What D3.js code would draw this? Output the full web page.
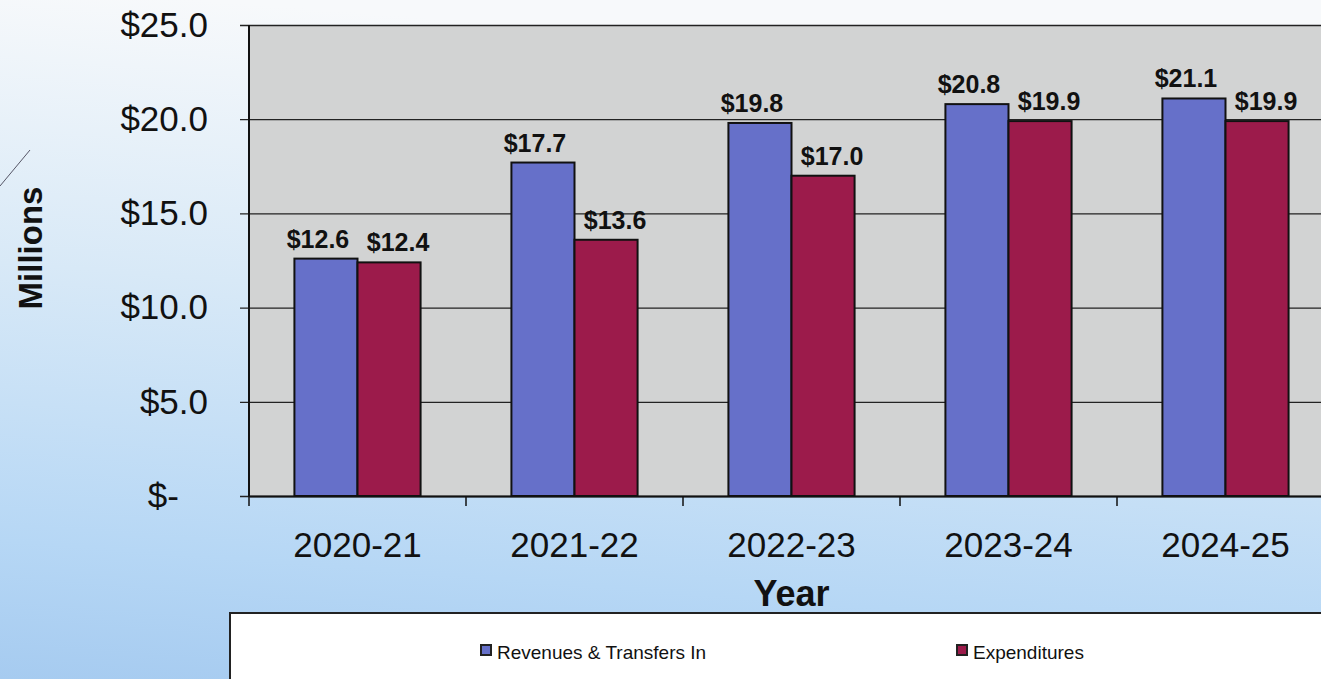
<html>
<head>
<style>
    body { margin: 0px; overflow: hidden; }
    text { font-family: Arial, "Liberation Sans", sans-serif; }
</style>
</head>
<body>
<svg id="viz"></svg>
<script src="https://d3js.org/d3.v7.min.js"></script>
<script>
var width = 1321;
var height = 679;

// data (millions of dollars)
var years = ["2020-21", "2021-22", "2022-23", "2023-24", "2024-25"];
var seriesNames = ["Revenues & Transfers In", "Expenditures"];
var revenues = [12.6, 17.7, 19.8, 20.8, 21.1];
var expenditures = [12.4, 13.6, 17.0, 19.9, 19.9];
var yTicks = [0, 5, 10, 15, 20, 25];
var colors = ["#6670c9", "#9c1b4b"];

var plot = {left: 249, top: 25, bottom: 496, right: 1334};

var svg = d3.select("#viz").attr("width", width).attr("height", height);

// light blue backdrop
var defs = svg.append("defs");
var grad = defs.append("linearGradient").attr("id", "bg")
    .attr("x1", "0.15").attr("y1", "0").attr("x2", "0").attr("y2", "1");
grad.append("stop").attr("offset", "0").attr("stop-color", "#f7f9fb");
grad.append("stop").attr("offset", "0.4").attr("stop-color", "#d8e9f7");
grad.append("stop").attr("offset", "0.8").attr("stop-color", "#b6d7f5");
grad.append("stop").attr("offset", "1").attr("stop-color", "#a6cbf0");
svg.append("rect").attr("width", width).attr("height", height).attr("fill", "url(#bg)");

// stray pen mark on the scan
svg.append("line").attr("x1", 0).attr("y1", 186).attr("x2", 30).attr("y2", 150)
    .attr("stroke", "#556").attr("stroke-width", 1);

var x = d3.scaleBand().domain(years).range([plot.left, plot.right]).paddingInner(0).paddingOuter(0);
var inner = d3.scaleBand().domain([0, 1]).range([0, x.bandwidth()]).paddingOuter(0.72).paddingInner(0);
var y = d3.scaleLinear().domain([0, 25]).range([plot.bottom, plot.top]);

// plot area
svg.append("rect")
    .attr("x", plot.left).attr("y", plot.top)
    .attr("width", plot.right - plot.left).attr("height", plot.bottom - plot.top)
    .attr("fill", "#d2d3d3");

// y axis with gridlines
var yAxis = svg.append("g").attr("transform", "translate(" + plot.left + ",0)")
    .call(d3.axisLeft(y).tickValues(yTicks).tickSize(-(plot.right - plot.left)).tickPadding(41)
        .tickFormat(function(d) { return d === 0 ? "$-\u00a0\u00a0\u00a0" : "$" + d3.format(".1f")(d); }));
yAxis.select(".domain").remove();
yAxis.selectAll(".tick line").attr("stroke", "#222").attr("stroke-width", 1.3).attr("x1", -9);
yAxis.selectAll(".tick text").attr("font-size", 35).attr("fill", "#111");

// bars
var groups = svg.append("g").selectAll("g")
    .data(years).enter().append("g")
    .attr("transform", function(d) { return "translate(" + x(d) + ",0)"; });

var series = [revenues, expenditures];
var labelShift = [-8, 9];
groups.each(function(yr, i) {
    var g = d3.select(this);
    series.forEach(function(vals, s) {
        g.append("rect")
            .attr("x", inner(s)).attr("y", y(vals[i]))
            .attr("width", inner.bandwidth()).attr("height", y(0) - y(vals[i]))
            .attr("fill", colors[s]).attr("stroke", "#111").attr("stroke-width", 2);
        g.append("text")
            .attr("x", inner(s) + inner.bandwidth() / 2 + labelShift[s]).attr("y", y(vals[i]) - 11)
            .attr("text-anchor", "middle").attr("font-size", 25).attr("font-weight", "bold")
            .attr("fill", "#111")
            .text("$" + d3.format(".1f")(vals[i]));
    });
});

// x axis
var xAxis = svg.append("g").attr("transform", "translate(0," + plot.bottom + ")")
    .call(d3.axisBottom(x).tickSize(0).tickPadding(36));
xAxis.select(".domain").attr("stroke", "#111").attr("stroke-width", 2);
xAxis.selectAll(".tick text").attr("font-size", 35).attr("fill", "#111");
svg.append("g").selectAll("line")
    .data(d3.range(years.length + 1)).enter().append("line")
    .attr("x1", function(d) { return plot.left + d * x.step(); })
    .attr("x2", function(d) { return plot.left + d * x.step(); })
    .attr("y1", plot.bottom).attr("y2", plot.bottom + 10)
    .attr("stroke", "#111").attr("stroke-width", 1.5);
svg.append("line").attr("x1", plot.left).attr("x2", plot.left)
    .attr("y1", plot.top).attr("y2", plot.bottom).attr("stroke", "#111").attr("stroke-width", 2);

// axis titles
svg.append("text").attr("x", (plot.left + plot.right) / 2).attr("y", 606)
    .attr("text-anchor", "middle").attr("font-size", 36).attr("font-weight", "bold")
    .attr("fill", "#111").text("Year");
svg.append("text").attr("transform", "translate(42,248) rotate(-90)")
    .attr("text-anchor", "middle").attr("font-size", 33).attr("font-weight", "bold")
    .attr("fill", "#111").text("Millions");

// legend
svg.append("rect").attr("x", 230).attr("y", 613).attr("width", 1200).attr("height", 100)
    .attr("fill", "#ffffff").attr("stroke", "#222").attr("stroke-width", 2);
var legendX = [481, 957];
var legend = svg.append("g").selectAll("g")
    .data(seriesNames).enter().append("g")
    .attr("transform", function(d, i) { return "translate(" + legendX[i] + ",645)"; });
legend.append("rect").attr("width", 10).attr("height", 10)
    .attr("fill", function(d, i) { return colors[i]; })
    .attr("stroke", "#222").attr("stroke-width", 2);
legend.append("text").attr("x", 16).attr("y", 14)
    .attr("font-size", 19).attr("fill", "#111").text(function(d) { return d; });
</script>
</body>
</html>
